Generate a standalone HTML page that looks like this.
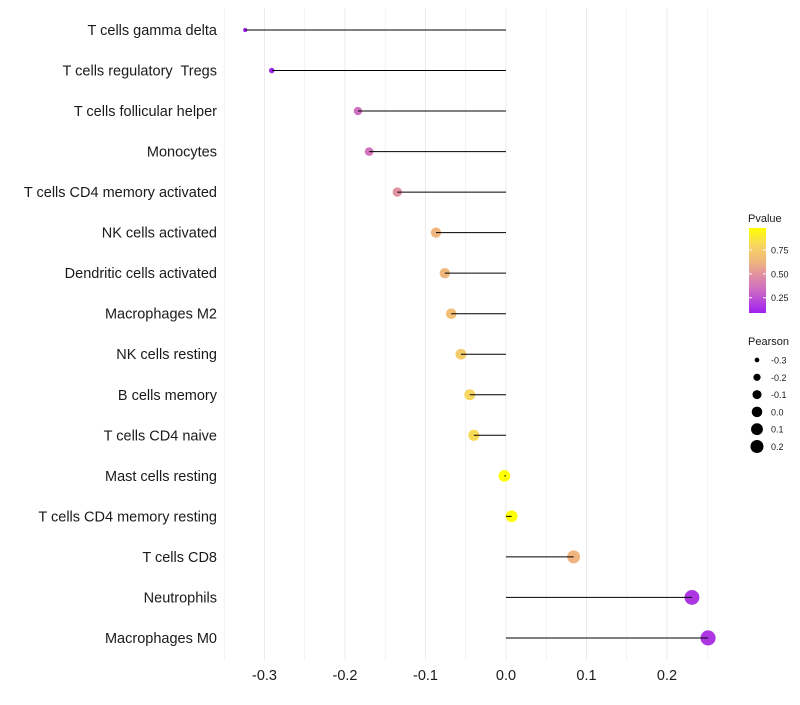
<!DOCTYPE html>
<html><head><meta charset="utf-8"><style>
body{margin:0;background:#fff;}
svg{font-family:"Liberation Sans",Arial,sans-serif;}
</style></head><body>
<svg id="chart" width="800" height="700"></svg>
<script>
const categories=["T cells gamma delta","T cells regulatory  Tregs","T cells follicular helper","Monocytes","T cells CD4 memory activated","NK cells activated","Dendritic cells activated","Macrophages M2","NK cells resting","B cells memory","T cells CD4 naive","Mast cells resting","T cells CD4 memory resting","T cells CD8","Neutrophils","Macrophages M0"];
const pearson=[-0.324,-0.291,-0.184,-0.170,-0.135,-0.087,-0.076,-0.068,-0.056,-0.045,-0.040,-0.002,0.007,0.084,0.231,0.251];
const pvalues=[0.09,0.11,0.35,0.37,0.49,0.62,0.63,0.68,0.74,0.80,0.82,0.98,0.97,0.62,0.16,0.16];
const xTicks=[-0.3,-0.2,-0.1,0.0,0.1,0.2];
const xTickLabels=["-0.3","-0.2","-0.1","0.0","0.1","0.2"];
const pTicks=[0.25,0.5,0.75];
const pTickLabels=["0.25","0.50","0.75"];
const sizeTicks=[-0.3,-0.2,-0.1,0.0,0.1,0.2];
const sizeTickLabels=["-0.3","-0.2","-0.1","0.0","0.1","0.2"];

const NS="http://www.w3.org/2000/svg";
const svg=document.getElementById('chart');
function mk(t,a,p){const e=document.createElementNS(NS,t);for(const k in a)e.setAttribute(k,a[k]);(p||svg).appendChild(e);return e;}
const x=v=>506+v*805;
const y=i=>30+i*40.53;
const r=v=>1.08*Math.sqrt(Math.max(1,4+(v+0.324)*78.4));
const pMin=0.09,pMax=0.98;
const stopsP=[0.09,0.35,0.5,0.62,0.8,0.98];
const stopsC=[[160,32,240],[208,112,192],[227,147,159],[239,180,127],[247,214,96],[255,255,0]];
function lerp(a,b,t){return a.map((c,i)=>Math.round(c+(b[i]-c)*t));}
function col(p){p=Math.max(pMin,Math.min(pMax,p));
 for(let k=0;k<stopsP.length-1;k++){if(p<=stopsP[k+1]){const t=(p-stopsP[k])/(stopsP[k+1]-stopsP[k]);return `rgb(${lerp(stopsC[k],stopsC[k+1],t)})`;}}
 return 'rgb(255,255,0)';}
const py=p=>313-(p-pMin)/(pMax-pMin)*85;

for(let v=-0.35;v<=0.26;v+=0.05){const g=mk('line',{x1:x(v),x2:x(v),y1:8,y2:660,stroke:'#ebebeb','stroke-width':Math.abs(Math.round(v*20))%2?0.6:1});
 }
categories.forEach((c,i)=>{
 const t=mk('text',{x:217,y:y(i)+5,'text-anchor':'end','font-size':14.5,fill:'#1a1a1a'});t.style.whiteSpace='pre';t.textContent=c;
 
 const p=mk('circle',{cx:x(pearson[i]),cy:y(i),r:r(pearson[i]),fill:col(pvalues[i])});
 
 const l=mk('line',{x1:x(pearson[i]),x2:x(0),y1:y(i),y2:y(i),stroke:'#000','stroke-width':1});
 
});
xTicks.forEach((v,i)=>{const t=mk('text',{x:x(v),y:680,'text-anchor':'middle','font-size':14.5,fill:'#1a1a1a'});t.textContent=xTickLabels[i];
 });
const lt=mk('text',{x:748,y:222,'font-size':11,fill:'#1a1a1a'});lt.textContent='Pvalue';

const defs=mk('defs',{});const lg=mk('linearGradient',{id:'pg',x1:0,y1:1,x2:0,y2:0},defs);
for(let k=0;k<=20;k++)mk('stop',{offset:k/20,'stop-color':col(pMin+(pMax-pMin)*k/20)},lg);
const bar=mk('rect',{x:749,y:228,width:17,height:85,fill:'url(#pg)'});

pTicks.forEach((v,i)=>{mk('line',{x1:749,x2:752,y1:py(v),y2:py(v),stroke:'#fff'});mk('line',{x1:763,x2:766,y1:py(v),y2:py(v),stroke:'#fff'});
 const t=mk('text',{x:771,y:py(v)+3.5,'font-size':9,fill:'#1a1a1a'});t.textContent=pTickLabels[i];
 });
const st=mk('text',{x:748,y:345,'font-size':11,fill:'#1a1a1a'});st.textContent='Pearson';

sizeTicks.forEach((v,i)=>{const cy=360+i*17.3;
 const c=mk('circle',{cx:757,cy:cy,r:r(v)*0.9,fill:'#000'});
 const t=mk('text',{x:771,y:cy+3.5,'font-size':9,fill:'#1a1a1a'});t.textContent=sizeTickLabels[i];
 });
</script>
</body></html>
